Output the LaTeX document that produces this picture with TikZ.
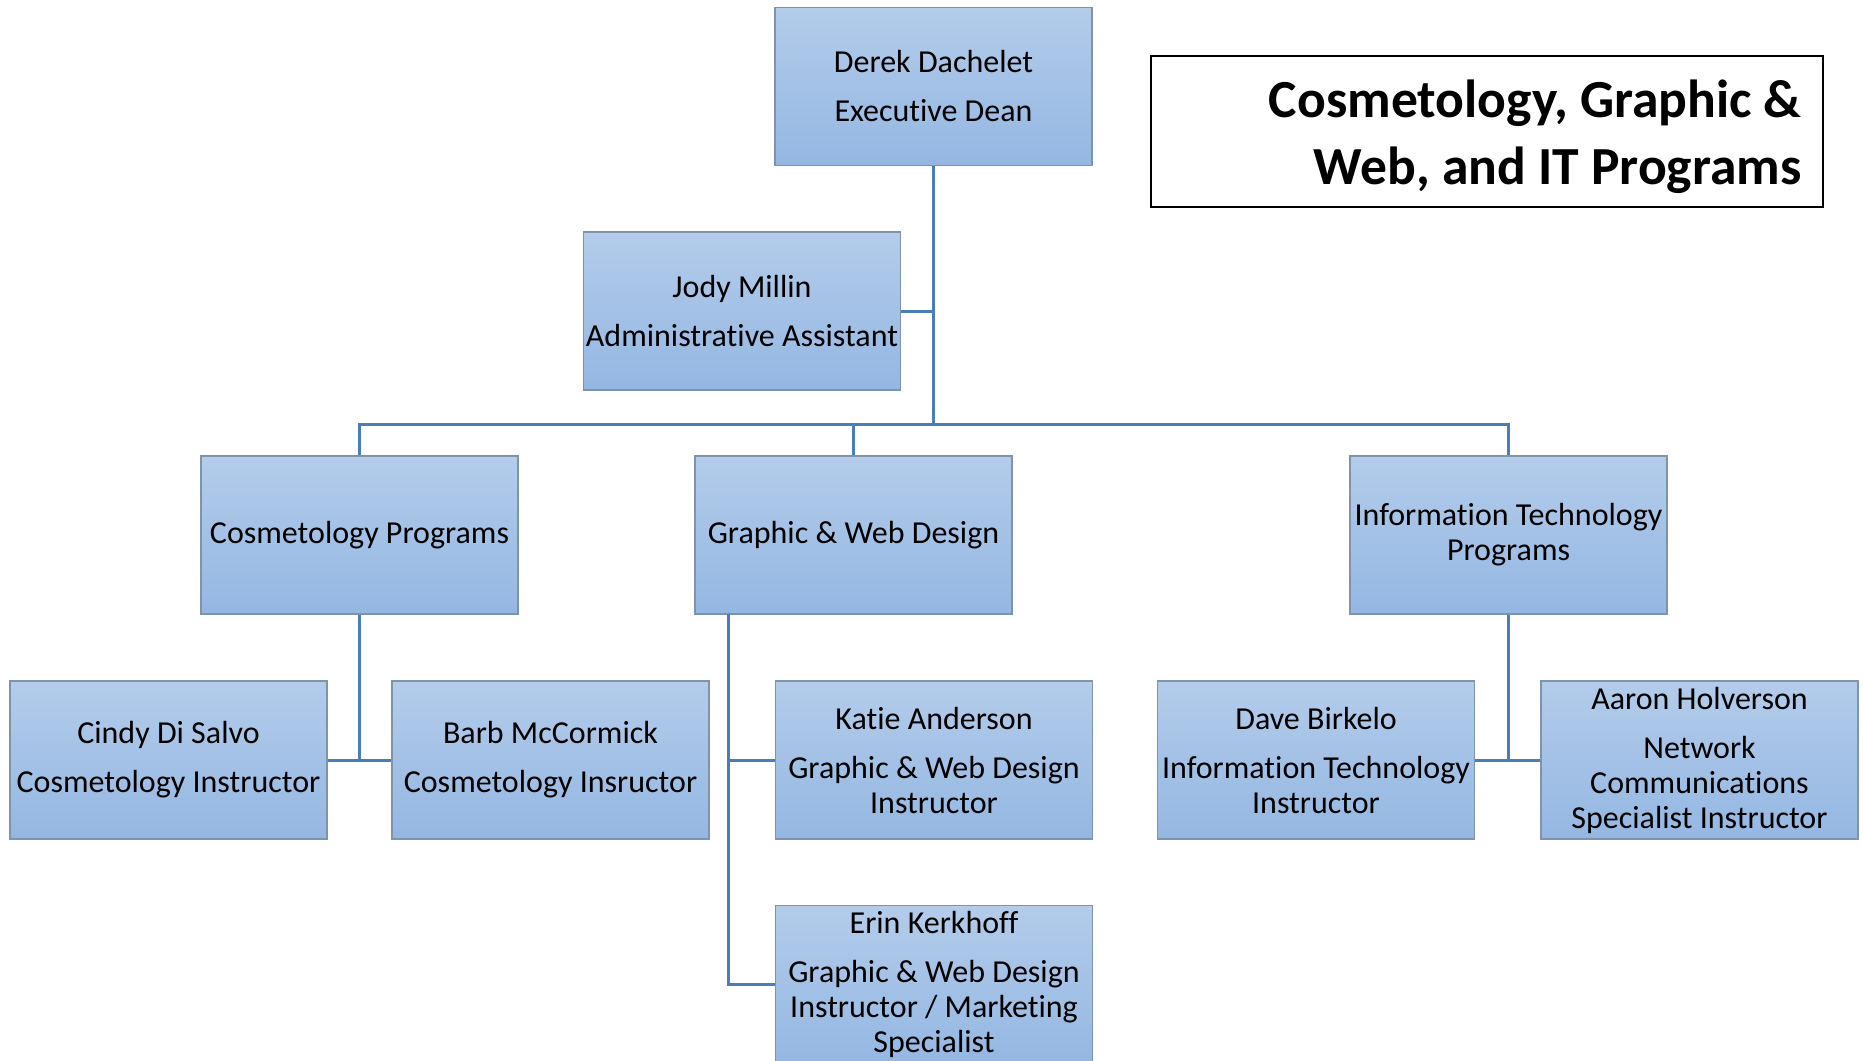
\documentclass[tikz,border=0pt]{standalone}
\usepackage{fontspec}
\setmainfont{Carlito}[Ligatures=NoCommon]
\definecolor{boxtop}{HTML}{B3CCEA}
\definecolor{boxbot}{HTML}{94B7E2}
\definecolor{boxline}{HTML}{7F93AA}
\definecolor{conn}{HTML}{4A7EBB}
\tikzset{
  orgbox/.style={draw=boxline, line width=0.7pt, top color=boxtop, bottom color=boxbot,
    minimum width=158.5pt, minimum height=79pt, inner sep=1pt, align=center,
    font=\fontsize{16pt}{17.5pt}\selectfont},
  link/.style={draw=conn, line width=1.5pt},
  titlebox/.style={draw=black, line width=0.8pt, minimum width=336pt, minimum height=75.5pt,
    inner sep=0pt},
  titletxt/.style={align=right, font=\fontsize{26.8pt}{33.4pt}\selectfont\bfseries, inner sep=0pt}
}
\begin{document}
\begin{tikzpicture}[x=0.5pt, y=-0.5pt]
\useasboundingbox (0,0) rectangle (1863,1060);
\clip (0,0) rectangle (1863,1060);
\fill[white] (0,0) rectangle (1863,1060);

\node[titlebox] (title) at (1487,131.5) {};
\node[titletxt, anchor=east] (titletext) at (1802,137) {Cosmetology, Graphic \&\\Web, and IT Programs};

\node[orgbox] (dean) at (933.5,86.5) {Derek Dachelet\\[7pt]Executive Dean};
\node[orgbox] (jody) at (742,311) {Jody Millin\\[7pt]Administrative Assistant};
\node[orgbox] (cos) at (359.5,535) {Cosmetology Programs};
\node[orgbox] (gwd) at (853.5,535) {Graphic \& Web Design};
\node[orgbox] (it) at (1508.5,535) {Information Technology\\Programs};
\node[orgbox] (cindy) at (168.5,760) {Cindy Di Salvo\\[7pt]Cosmetology Instructor};
\node[orgbox] (barb) at (550.5,760) {Barb McCormick\\[7pt]Cosmetology Insructor};
\node[orgbox] (katie) at (934,760) {Katie Anderson\\[7pt]Graphic \& Web Design\\Instructor};
\node[orgbox] (dave) at (1316,760) {Dave Birkelo\\[7pt]Information Technology\\Instructor};
\node[orgbox] (aaron) at (1699.5,760) {Aaron Holverson\\[7pt]Network\\Communications\\Specialist Instructor};
\node[orgbox] (erin) at (934,984.5) {Erin Kerkhoff\\[7pt]Graphic \& Web Design\\Instructor / Marketing\\Specialist};

\coordinate (hub) at (933.5,424);
\coordinate (gx) at (728,614);

\draw[link] (dean.south) -- (hub);
\draw[link] (jody.east) -- (jody.east -| hub);
\draw[link] (cos.north) |- (hub) -| (it.north);
\draw[link] (gwd.north) -- (gwd.north |- hub);
\draw[link] (cos.south) -- (cos.south |- cindy.east);
\draw[link] (cindy.east) -- (barb.west);
\draw[link] (gx) |- (erin.west);
\draw[link] (katie.west) -- (katie.west -| gx);
\draw[link] (it.south) -- (it.south |- dave.east);
\draw[link] (dave.east) -- (aaron.west);
\end{tikzpicture}
\end{document}
